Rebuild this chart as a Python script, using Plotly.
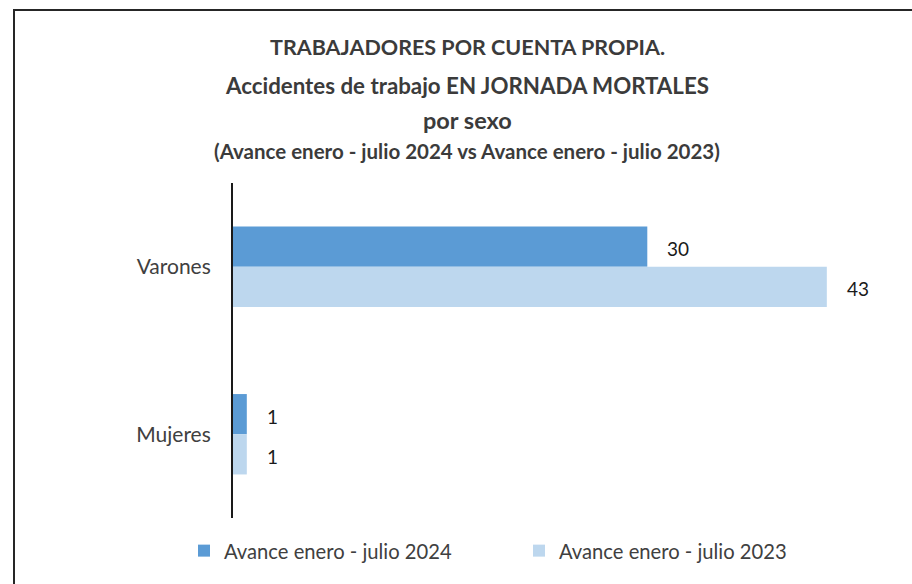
import plotly.graph_objects as go

# Categories and series values
categorias = ["Varones", "Mujeres"]
serie_2024 = [30, 1]
serie_2023 = [43, 1]
nombre_2024 = "Avance enero - julio 2024"
nombre_2023 = "Avance enero - julio 2023"
color_2024 = "#5B9BD5"
color_2023 = "#BDD7EE"

titulo = [
    "TRABAJADORES POR CUENTA PROPIA.",
    "Accidentes de trabajo EN JORNADA MORTALES",
    "por sexo",
    "(Avance enero - julio 2024 vs Avance enero - julio 2023)",
]

W, H = 912, 584
L, R, T, B = 233, 58, 183, 66
pw, ph = W - L - R, H - T - B


def px_x(x):
    return (x - L) / pw


def px_y(y):
    return (H - B - y) / ph


FONT = "Lato"

fig = go.Figure()
fig.add_trace(go.Bar(y=categorias, x=serie_2024, orientation="h", name=nombre_2024,
                     marker=dict(color=color_2024, line=dict(width=0))))
fig.add_trace(go.Bar(y=categorias, x=serie_2023, orientation="h", name=nombre_2023,
                     marker=dict(color=color_2023, line=dict(width=0))))

# Value labels next to each bar end
for vals, shift in ((serie_2024, 20), (serie_2023, -20)):
    for cat, v in zip(categorias, vals):
        fig.add_annotation(x=v, y=cat, text=str(v), showarrow=False, xanchor="left",
                           xshift=18, yshift=shift - 2,
                           font=dict(family=FONT, size=19, color="#1a1a1a"))

# Title lines
title_rows = [(47, 21.5), (85, 22.3), (120, 23.5), (151, 20.5)]
for txt, (yp, sz) in zip(titulo, title_rows):
    fig.add_annotation(x=px_x(467), y=px_y(yp), xref="paper", yref="paper", text=f"<b>{txt}</b>",
                       showarrow=False, xanchor="center", yanchor="middle",
                       font=dict(family=FONT, size=sz, color="#3b3b3b"))

# Chart frame
fig.add_shape(type="rect", xref="paper", yref="paper",
              x0=px_x(14), x1=px_x(930), y0=px_y(10), y1=px_y(600),
              line=dict(color="#262626", width=2), fillcolor="rgba(0,0,0,0)", layer="below")

fig.update_layout(
    width=W, height=H,
    margin=dict(l=L, r=R, t=T, b=B, autoexpand=False),
    paper_bgcolor="white", plot_bgcolor="white",
    barmode="group", bargap=0.52, bargroupgap=0,
    showlegend=True,
    legend=dict(orientation="h", x=px_x(184), xanchor="left", y=px_y(551), yanchor="middle",
                font=dict(family=FONT, size=20.2, color="#404040"),
                entrywidth=290, entrywidthmode="pixels", traceorder="normal",
                itemclick=False, bgcolor="rgba(0,0,0,0)"),
    xaxis=dict(range=[0, pw / 13.81], visible=False, showgrid=False, zeroline=False),
    yaxis=dict(autorange="reversed", showline=True, linecolor="#1a1a1a", linewidth=2,
               ticks="outside", ticklen=16, tickcolor="rgba(0,0,0,0)",
               tickfont=dict(family=FONT, size=21, color="#404040"), showgrid=False),
)

fig.write_html("out.html")
